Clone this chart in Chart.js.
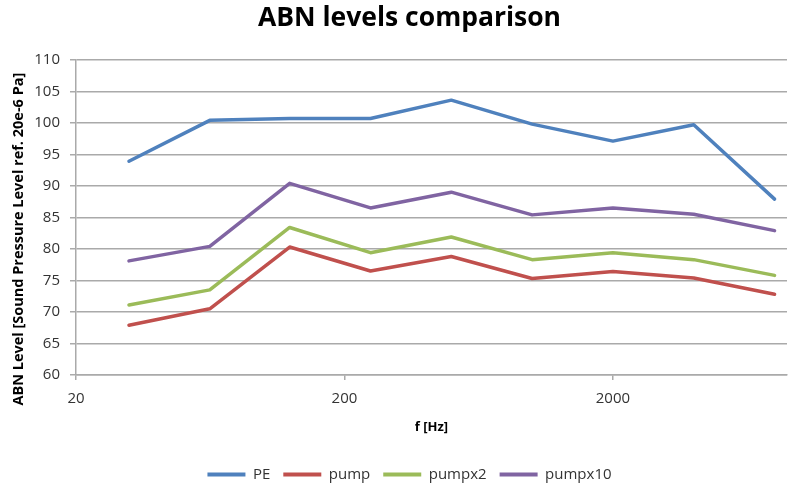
<!DOCTYPE html>
<html><head><meta charset="utf-8">
<script src="https://cdn.jsdelivr.net/npm/chart.js@4"></script>
<style>html,body{margin:0;padding:0;background:#fff}#wrap{width:789px;height:485px}</style>
</head><body><div id="wrap"><canvas id="c" width="789" height="485"></canvas></div>
<script>
const frequencies = [31.5, 63, 125, 250, 500, 1000, 2000, 4000, 8000];
const PE      = [93.9, 100.4, 100.7, 100.7, 103.6, 99.8, 97.1, 99.7, 87.9];
const pump    = [67.9, 70.5, 80.3, 76.5, 78.8, 75.3, 76.4, 75.4, 72.8];
const pumpx2  = [71.1, 73.5, 83.4, 79.4, 81.9, 78.3, 79.4, 78.3, 75.8];
const pumpx10 = [78.1, 80.4, 90.4, 86.5, 89.0, 85.4, 86.5, 85.5, 82.9];
const xTickValues = [20, 200, 2000];
const seriesNames = ['PE', 'pump', 'pumpx2', 'pumpx10'];
const seriesColors = ['#4F81BD', '#C0504D', '#9BBB59', '#8064A2'];
const seriesValues = [PE, pump, pumpx2, pumpx10];

const FONT = "'Open Sans', sans-serif";
const gridColor = '#aaaaaa';

const datasets = seriesNames.map((name, i) => ({
  label: name,
  data: frequencies.map((f, j) => ({x: f, y: seriesValues[i][j]})),
  borderColor: seriesColors[i],
  backgroundColor: seriesColors[i],
  borderWidth: 3.5,
  pointRadius: 0,
  tension: 0,
  fill: false,
  borderCapStyle: 'round',
  borderJoinStyle: 'round'
}));

new Chart(document.getElementById('c'), {
  type: 'line',
  data: { datasets },
  options: {
    responsive: false,
    animation: false,
    layout: { padding: { left: 32, right: 2, top: 0, bottom: -7 } },
    plugins: {
      title: {
        display: true,
        text: 'ABN levels comparison',
        color: '#000',
        font: { family: FONT, size: 26.5, weight: 'bold' },
        padding: { top: 3, bottom: 25 }
      },
      legend: {
        position: 'bottom',
        labels: {
          boxWidth: 38,
          boxHeight: 4,
          padding: 13,
          color: '#333',
          font: { family: FONT, size: 15 },
          generateLabels: (chart) => {
            const items = Chart.defaults.plugins.legend.labels.generateLabels(chart);
            items.forEach(it => { it.lineWidth = 0; it.strokeStyle = 'rgba(0,0,0,0)'; });
            return items;
          }
        }
      },
      tooltip: { enabled: false }
    },
    scales: {
      x: {
        type: 'logarithmic',
        min: 20,
        max: 8900,
        afterBuildTicks: (s) => { s.ticks = xTickValues.map(v => ({ value: v, major: true })); },
        afterFit: (s) => { s.height = 79; },
        ticks: {
          callback: (v) => String(v),
          color: '#333',
          font: { family: FONT, size: 15 },
          padding: 10,
          autoSkip: false,
          maxRotation: 0
        },
        grid: { drawOnChartArea: false, drawTicks: true, tickLength: 5, color: gridColor, lineWidth: 1.5 },
        border: { color: gridColor, width: 1.5 },
        title: {
          display: true,
          text: 'f [Hz]',
          color: '#000',
          font: { family: FONT, size: 13, weight: 'bold' },
          padding: { top: 4, bottom: 19 }
        }
      },
      y: {
        min: 60,
        max: 110,
        afterFit: (s) => { s.width = 44; },
        ticks: {
          stepSize: 5,
          color: '#333',
          font: { family: FONT, size: 15 },
          padding: 10
        },
        grid: { color: gridColor, lineWidth: 1.5, tickLength: 6 },
        border: { color: gridColor, width: 1.5 },
        title: {
          display: true,
          text: 'ABN Level [Sound Pressure Level ref. 20e-6 Pa]\u2003\u2003\u2003',
          color: '#000',
          font: { family: FONT, size: 14.5, weight: 'bold' },
          padding: { top: -22, bottom: 0 }
        }
      }
    }
  }
});
</script></body></html>
